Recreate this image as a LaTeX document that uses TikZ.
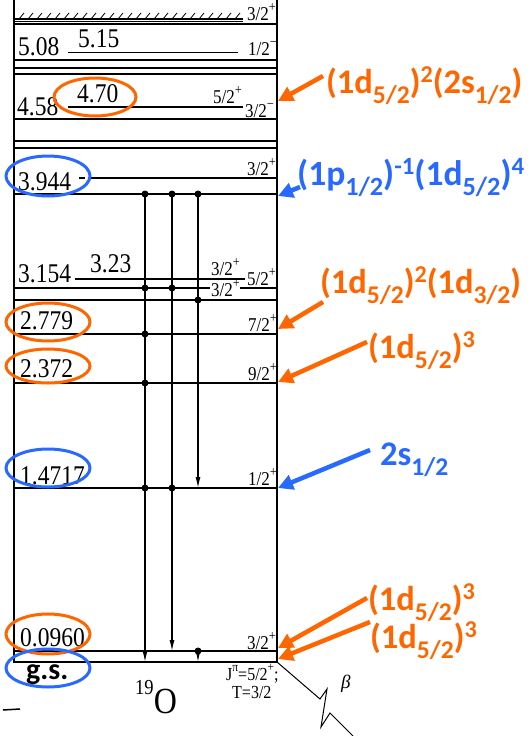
\documentclass[tikz,border=0pt]{standalone}
\usepackage{fontspec}
\usepackage{graphicx}
\setmainfont{Liberation Serif}
\newfontfamily\calfnt{Carlito}
\usetikzlibrary{arrows.meta}
\definecolor{orng}{RGB}{255,102,0}
\definecolor{blu}{RGB}{40,105,255}
\newcommand\vs[1]{\scalebox{1}[1.15]{#1}}
\newcommand\sps[1]{\raisebox{0.45em}{\scalebox{0.72}{#1}}}
\newcommand\sbx[1]{\raisebox{-0.3em}{\scalebox{0.74}{#1}}}
\newcommand\spx[1]{\raisebox{0.3em}{\scalebox{0.7}{#1}}}
\begin{document}
\begin{tikzpicture}[x=1pt,y=-1pt,
  lvl/.style={line width=1.2pt},
  en/.style={inner sep=0,anchor=base west,font=\fontsize{23.5}{24}\selectfont},
  jp/.style={inner sep=0,anchor=base west,font=\fontsize{17}{17}\selectfont},
  sm/.style={inner sep=0,anchor=base west,font=\fontsize{16}{16}\selectfont},
  ann/.style={inner sep=0,anchor=base west,font=\calfnt\bfseries\fontsize{34.5}{34.5}\selectfont},
  annb/.style={inner sep=0,anchor=base west,font=\calfnt\bfseries\fontsize{35.5}{35.5}\selectfont},
  oell/.style={draw=orng,line width=3pt},
  bell/.style={draw=blu,line width=3pt},
  tr/.style={line width=1.2pt,-{Latex[length=11pt,width=5pt]}},
  oarr/.style={orng,line width=4.5pt,-{Triangle[length=15pt,width=15pt]}},
  barr/.style={blu,line width=4.5pt,-{Triangle[length=15pt,width=15pt]}}
]
\path[use as bounding box] (0,0) rectangle (531,736);
% box
\draw[line width=1.3pt] (14,0) -- (14,662) -- (277,662) -- (277,0);
% hatched top level
\draw[lvl] (15,19) -- (243,19);
\foreach \x in {19,28,...,236} \draw[line width=0.8pt] (\x,19) -- (\x+5,13);
\draw[lvl] (14,21.5) -- (243,21.5);
\draw[lvl] (14,24) -- (277,24);
\node[jp] (t32a) at (247,20) {\vs{3/2\sps{+}}};
% 5.08 / 5.15
\node[en] (e508) at (18,55) {\vs{5.08}};
\node[en] (e515) at (78,47) {\vs{5.15}};
\draw[lvl] (68,52.5) -- (238,52.5);
\node[jp] (t12m) at (248,55) {\vs{1/2\sps{\char"2212}}};
\draw[lvl] (14,60) -- (277,60);
\draw[lvl] (14,68) -- (277,68);
\draw[lvl] (14,74) -- (277,74);
% 4.58 / 4.70
\node[en] (e458) at (17,115) {\vs{4.58}};
\node[en] (e470) at (77,102) {\vs{4.70}};
\draw[lvl] (68,107) -- (243,107);
\node[jp] (t52a) at (213,103) {\vs{5/2\sps{+}}};
\node[jp] (t32m) at (245,117) {\vs{3/2\sps{\char"2212}}};
\draw[lvl] (14,119) -- (277,119);
\draw[lvl] (14,141) -- (277,141);
\draw[lvl] (14,148) -- (277,148);
% 3.944
\node[en] (e3944) at (18,190) {\vs{3.944}};
\draw[lvl] (79,178) -- (85,178);
\draw[lvl] (90,178) -- (277,178);
\node[jp] (t32b) at (247,175) {\vs{3/2\sps{+}}};
\draw[lvl] (14,194) -- (277,194);
% 3.154 / 3.23
\node[en] (e3154) at (18,282) {\vs{3.154}};
\node[en] (e323) at (90,272) {\vs{3.23}};
\draw[lvl] (75,279) -- (245,279);
\node[jp] (t32c) at (211,275) {\vs{3/2\sps{+}}};
\node[jp] (t52b) at (247,285) {\vs{5/2\sps{+}}};
\draw[lvl] (14,288) -- (210,288);
\draw[lvl] (240,288) -- (277,288);
\node[jp] (t32d) at (211,296) {\vs{3/2\sps{+}}};
\draw[lvl] (14,300) -- (277,300);
% 2.779
\node[en] (e2779) at (20,329) {\vs{2.779}};
\node[jp] (t72) at (248,331) {\vs{7/2\sps{+}}};
\draw[lvl] (14,334) -- (277,334);
% 2.372
\node[en] (e2372) at (20,377) {\vs{2.372}};
\node[jp] (t92) at (248,380) {\vs{9/2\sps{+}}};
\draw[lvl] (14,383) -- (277,383);
% 1.4717
\node[en] (e14717) at (20,484) {\vs{1.4717}};
\node[jp] (t12p) at (248,485) {\vs{1/2\sps{+}}};
\draw[lvl] (14,488) -- (277,488);
% 0.0960
\node[en] (e0096) at (20,646) {\vs{0.0960}};
\node[jp] (t32e) at (247,649) {\vs{3/2\sps{+}}};
\draw[lvl] (14,651) -- (277,651);
% transitions
\draw[tr] (145,194) -- (145,662);
\draw[tr] (172,194) -- (172,651);
\draw[tr] (198,194) -- (198,488);
\draw[tr] (198,651) -- (198,662);
\foreach \p in {(145,194),(172,194),(198,194),(145,288),(172,288),(198,300),(145,334),(145,383),(145,488),(172,488),(198,651)}
  \fill \p circle (3.5);
% bottom labels
\node[inner sep=0,anchor=base west,font=\calfnt\bfseries\fontsize{30}{30}\selectfont] (gs) at (26,679) {g.s.};
\node[sm] (jpi) at (226,680) {\vs{J\sps{π}=5/2\sps{+};}};
\node[sm] (tiso) at (232,698) {\vs{T=3/2}};
\node[inner sep=0,anchor=base west,font=\fontsize{32}{32}\selectfont] (o19) at (135,713) {\vs{\raisebox{0.5em}{\scalebox{0.58}{19}}O}};
\node[inner sep=0,anchor=base west,font=\fontsize{19}{19}\selectfont\itshape] (beta) at (341,688) {β};
\draw[line width=1.5pt] (3,710) -- (20,709);
\draw[line width=1pt] (277,662) -- (320,699) -- (327,689) -- (321,727) -- (330,713) -- (353,736);
% ellipses
\draw[oell] (95,97) ellipse [x radius=41, y radius=19];
\draw[bell] (48,176) ellipse [x radius=42, y radius=20];
\draw[oell] (48,322) ellipse [x radius=42, y radius=19];
\draw[oell] (48,366) ellipse [x radius=42, y radius=17];
\draw[bell] (48,468) ellipse [x radius=42, y radius=19];
\draw[oell] (48,634) ellipse [x radius=42, y radius=20];
\draw[bell] (48,668) ellipse [x radius=42, y radius=19];
% annotations
\node[ann,orng] (a1) at (326,93) {(1d\sbx{5/2})\spx{2}(2s\sbx{1/2})};
\node[annb,blu] (a2) at (297,185) {(1p\sbx{1/2})\spx{-1}(1d\sbx{5/2})\spx{4}};
\node[ann,orng] (a3) at (320,293) {(1d\sbx{5/2})\spx{2}(1d\sbx{3/2})};
\node[ann,orng] (a4) at (368,358) {(1d\sbx{5/2})\spx{3}};
\node[ann,blu] (a5) at (380,465) {2s\sbx{1/2}};
\node[ann,orng] (a6) at (368,610) {(1d\sbx{5/2})\spx{3}};
\node[ann,orng] (a7) at (370,648) {(1d\sbx{5/2})\spx{3}};
\coordinate (s1) at (323,76);  \coordinate (p1) at (278,101);
\coordinate (s2) at (300,187); \coordinate (p2) at (278,196);
\coordinate (s3) at (323,302); \coordinate (p3) at (278,329);
\coordinate (s4) at (367,342); \coordinate (p4) at (278,382);
\coordinate (s5) at (370,450); \coordinate (p5) at (278,488);
\coordinate (s6) at (367,598); \coordinate (p6) at (278,648);
\coordinate (s7) at (370,622); \coordinate (p7) at (278,659);
\draw[oarr] (s1) -- (p1);
\draw[barr] (s2) -- (p2);
\draw[oarr] (s3) -- (p3);
\draw[oarr] (s4) -- (p4);
\draw[barr] (s5) -- (p5);
\draw[oarr] (s6) -- (p6);
\draw[oarr] (s7) -- (p7);
\end{tikzpicture}
\end{document}
